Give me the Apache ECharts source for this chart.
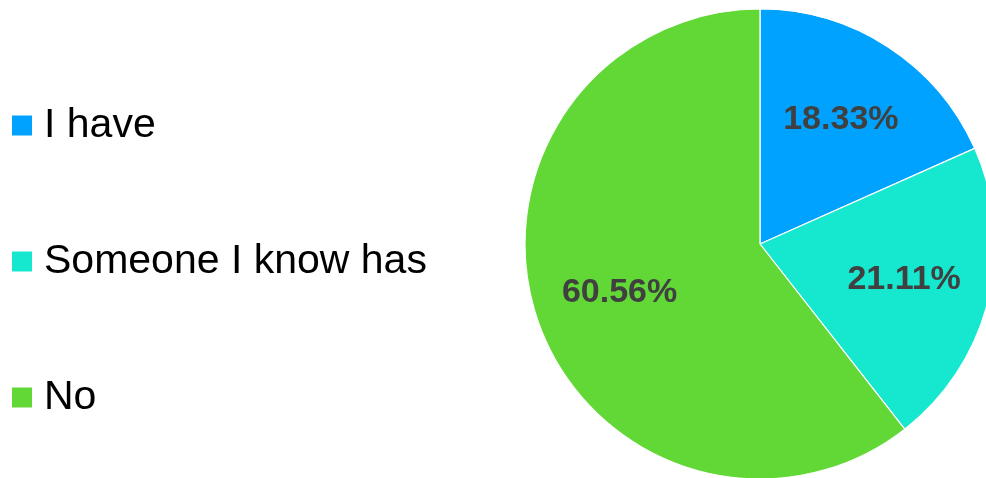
<!DOCTYPE html>
<html>
<head>
<meta charset="utf-8">
<script src="https://cdn.jsdelivr.net/npm/echarts@6/dist/echarts.min.js"></script>
<style>
  html, body { margin: 0; padding: 0; background: #fff; }
  #chart { width: 986px; height: 478px; }
</style>
</head>
<body>
<div id="chart"></div>
<script>
// Survey answers and their shares (percent)
const categories = ['I have', 'Someone I know has', 'No'];
const shares = [18.33, 21.11, 60.56];
const colors = ['#00A2FF', '#16E7CF', '#61D836'];

const pieData = categories.map((name, i) => ({
  name,
  value: shares[i],
  itemStyle: { color: colors[i] }
}));

const chart = echarts.init(document.getElementById('chart'), null, { renderer: 'canvas' });

chart.setOption({
  animation: false,
  legend: {
    orient: 'vertical',
    left: 10,
    top: 105,
    padding: 0,
    itemWidth: 22,
    itemHeight: 22,
    itemGap: 95,
    icon: 'rect',
    selectedMode: false,
    textStyle: {
      fontFamily: 'Liberation Sans, Arial, sans-serif',
      fontSize: 41,
      color: '#000',
      padding: [0, 0, 0, 6]
    },
    data: categories
  },
  series: [
    {
      type: 'pie',
      center: [760, 244],
      radius: 235,
      startAngle: 90,
      clockwise: true,
      silent: true,
      label: { show: false },
      labelLine: { show: false },
      itemStyle: { borderColor: '#fff', borderWidth: 1.2 },
      data: pieData
    },
    {
      // transparent ring used only to place the percentage labels
      type: 'pie',
      center: [760, 244],
      radius: [56, 235],
      startAngle: 90,
      clockwise: true,
      silent: true,
      legendHoverLink: false,
      itemStyle: { color: 'rgba(0,0,0,0)', borderWidth: 0 },
      label: {
        show: true,
        position: 'inside',
        formatter: p => p.value.toFixed(2) + '%',
        fontFamily: 'Liberation Sans, Arial, sans-serif',
        fontWeight: 'bold',
        fontSize: 34,
        color: '#404040'
      },
      labelLine: { show: false },
      data: categories.map((name, i) => ({ name: name + ' ', value: shares[i] }))
    }
  ]
});
</script>
</body>
</html>
